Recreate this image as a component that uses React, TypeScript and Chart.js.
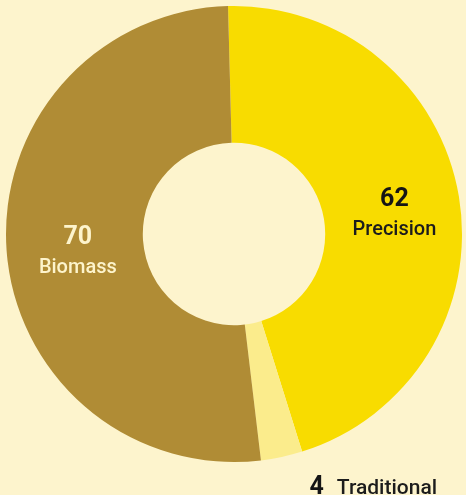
import React, { useEffect, useRef } from "react";
import { Chart, registerables } from "chart.js";

Chart.register(...registerables);

const categories = ["Precision", "Traditional", "Biomass"];
const values = [62, 4, 70];
const colors = ["#f8dc00", "#fbec8c", "#b08c35"];
const numberColors = ["#151515", "#151515", "#fdf4cc"];
const nameColors = ["#1c1c1c", "#1c1c1c", "#fdf4cc"];
const outsideLabel = [false, true, false];

const FONT = "Roboto, 'Noto Sans', sans-serif";

const labelPlugin = {
  id: "sliceLabels",
  afterDatasetsDraw(chart: any) {
    const ctx = chart.ctx;
    const meta = chart.getDatasetMeta(0);
    meta.data.forEach((arc: any, i: number) => {
      const p = arc.getProps(["x", "y", "startAngle", "endAngle", "innerRadius", "outerRadius"], true);
      const mid = (p.startAngle + p.endAngle) / 2;
      ctx.save();
      ctx.textBaseline = "alphabetic";
      if (outsideLabel[i]) {
        const r = p.outerRadius * 1.12;
        const ax = p.x + Math.cos(mid) * r + 22;
        const ay = p.y + Math.sin(mid) * r + 10;
        ctx.textAlign = "left";
        ctx.font = `700 25px ${FONT}`;
        ctx.fillStyle = numberColors[i];
        const num = String(values[i]);
        ctx.fillText(num, ax, ay);
        const w = ctx.measureText(num).width;
        ctx.font = `500 21px ${FONT}`;
        ctx.fillStyle = nameColors[i];
        ctx.fillText(categories[i], ax + w + 13, ay);
      } else {
        const r = (p.innerRadius + p.outerRadius) / 2;
        const cx = p.x + Math.cos(mid) * r + 3;
        const cy = p.y + Math.sin(mid) * r + 4;
        ctx.textAlign = "center";
        ctx.font = `700 25px ${FONT}`;
        ctx.fillStyle = numberColors[i];
        ctx.fillText(String(values[i]), cx, cy - 6);
        ctx.font = `500 20px ${FONT}`;
        ctx.fillStyle = nameColors[i];
        ctx.fillText(categories[i], cx, cy + 23);
      }
      ctx.restore();
    });
  },
};

export default function App() {
  const ref = useRef<HTMLCanvasElement | null>(null);
  useEffect(() => {
    document.body.style.margin = "0";
    const chart = new Chart(ref.current as HTMLCanvasElement, {
      type: "doughnut",
      data: {
        labels: categories,
        datasets: [
          {
            data: values,
            backgroundColor: colors,
            borderWidth: 0,
          },
        ],
      },
      options: {
        responsive: false,
        animation: false,
        cutout: "40%",
        rotation: -1.5,
        layout: { padding: { left: 6, right: 4, top: 6, bottom: 33 } },
        plugins: {
          legend: { display: false },
          tooltip: { enabled: false },
        },
      },
      plugins: [labelPlugin],
    });
    return () => chart.destroy();
  }, []);
  return (
    <div style={{ position: "absolute", left: 0, top: 0, width: 466, height: 495, background: "#fdf4cd" }}>
      <canvas ref={ref} width={466} height={495} style={{ display: "block" }} />
    </div>
  );
}
